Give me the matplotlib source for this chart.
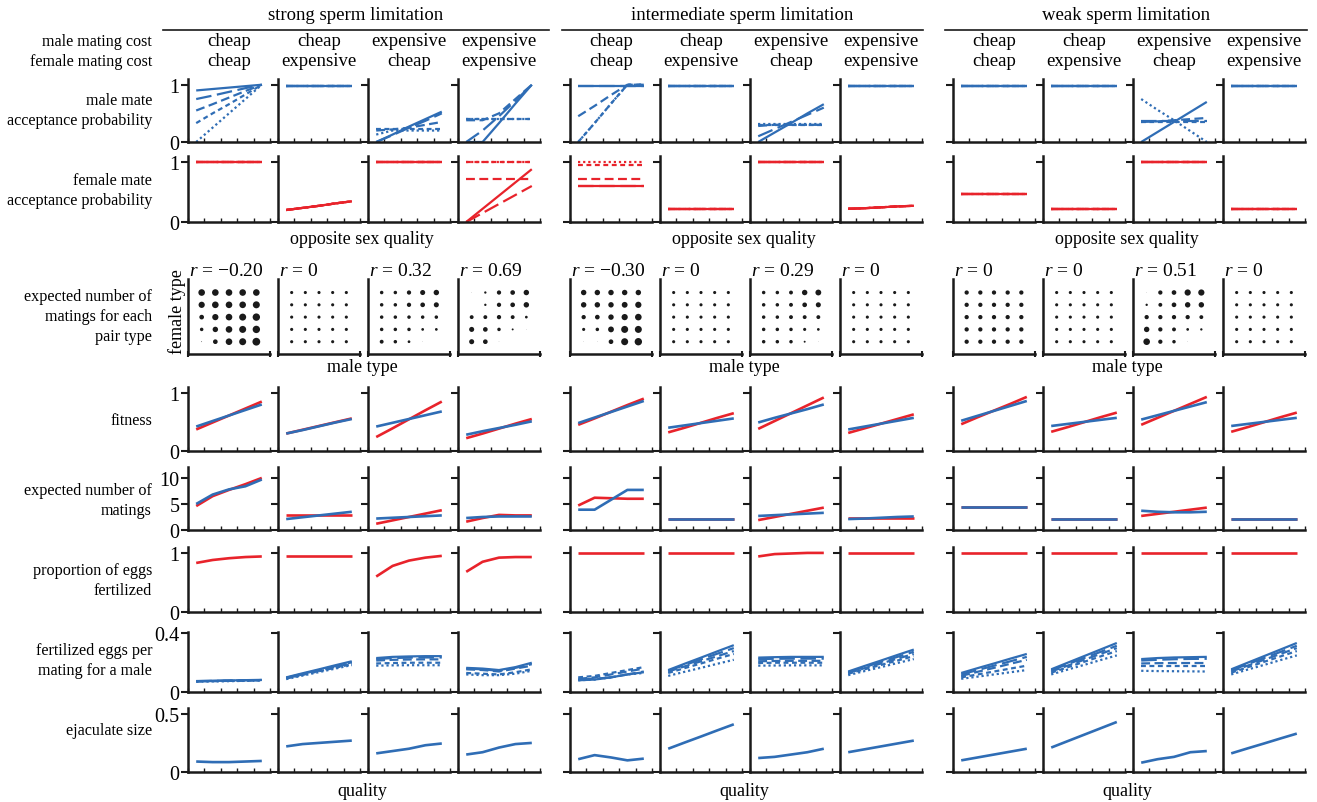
import numpy as np
import matplotlib
matplotlib.use("Agg")
import matplotlib.pyplot as plt
from matplotlib.lines import Line2D

plt.rcParams['font.family'] = ['Liberation Serif', 'DejaVu Serif']
plt.rcParams['mathtext.fontset'] = 'custom'
plt.rcParams['mathtext.rm'] = 'Liberation Serif'
plt.rcParams['mathtext.it'] = 'Liberation Serif:italic'

# ---------------- data ----------------
groups = ["strong sperm limitation", "intermediate sperm limitation", "weak sperm limitation"]
male_cost = ["cheap", "cheap", "expensive", "expensive"]
female_cost = ["cheap", "expensive", "cheap", "expensive"]
quality = [1, 2, 3, 4, 5]
types = [1, 2, 3, 4, 5]
corr_values = ["\u22120.20", "0", "0.32", "0.69",
               "\u22120.30", "0", "0.29", "0",
               "0", "0", "0.51", "0"]

# male mate acceptance probability: 12 panels x 5 own-quality classes
male_accept = [
    [[0.90, 0.925, 0.95, 0.975, 1.0], [0.75, 0.81, 0.875, 0.94, 1.0], [0.55, 0.66, 0.775, 0.89, 1.0],
     [0.33, 0.50, 0.66, 0.83, 1.0], [0.0, 0.25, 0.50, 0.75, 1.0]],
    [[0.97, 0.97, 0.97, 0.97, 0.97], [0.97, 0.97, 0.97, 0.97, 0.97], [0.97, 0.97, 0.97, 0.97, 0.97],
     [0.97, 0.97, 0.97, 0.97, 0.97], [0.97, 0.97, 0.97, 0.97, 0.97]],
    [[0.0, 0.13, 0.27, 0.40, 0.53], [0.0, 0.12, 0.25, 0.37, 0.50], [0.20, 0.22, 0.25, 0.30, 0.35],
     [0.22, 0.22, 0.22, 0.22, 0.22], [0.13, 0.20, 0.20, 0.20, 0.20]],
    [[0.0, 0.0, 0.33, 0.67, 1.0], [0.0, 0.20, 0.45, 0.72, 1.0], [0.38, 0.38, 0.50, 0.75, 1.0],
     [0.40, 0.40, 0.40, 0.40, 0.40], [0.40, 0.40, 0.40, 0.40, 0.40]],
    [[0.98, 0.98, 0.98, 0.98, 0.98], [0.98, 0.98, 0.98, 0.98, 0.98], [0.45, 0.63, 0.82, 1.0, 1.0],
     [0.0, 0.33, 0.67, 1.0, 1.0], [0.0, 0.33, 0.67, 1.0, 1.0]],
    [[0.98, 0.98, 0.98, 0.98, 0.98], [0.98, 0.98, 0.98, 0.98, 0.98], [0.98, 0.98, 0.98, 0.98, 0.98],
     [0.98, 0.98, 0.98, 0.98, 0.98], [0.98, 0.98, 0.98, 0.98, 0.98]],
    [[0.0, 0.165, 0.33, 0.50, 0.66], [0.10, 0.225, 0.35, 0.475, 0.60], [0.28, 0.30, 0.30, 0.30, 0.30],
     [0.30, 0.30, 0.30, 0.30, 0.30], [0.32, 0.32, 0.32, 0.32, 0.32]],
    [[0.98, 0.98, 0.98, 0.98, 0.98], [0.98, 0.98, 0.98, 0.98, 0.98], [0.98, 0.98, 0.98, 0.98, 0.98],
     [0.98, 0.98, 0.98, 0.98, 0.98], [0.98, 0.98, 0.98, 0.98, 0.98]],
    [[0.98, 0.98, 0.98, 0.98, 0.98], [0.98, 0.98, 0.98, 0.98, 0.98], [0.98, 0.98, 0.98, 0.98, 0.98],
     [0.98, 0.98, 0.98, 0.98, 0.98], [0.98, 0.98, 0.98, 0.98, 0.98]],
    [[0.98, 0.98, 0.98, 0.98, 0.98], [0.98, 0.98, 0.98, 0.98, 0.98], [0.98, 0.98, 0.98, 0.98, 0.98],
     [0.98, 0.98, 0.98, 0.98, 0.98], [0.98, 0.98, 0.98, 0.98, 0.98]],
    [[0.0, 0.175, 0.35, 0.525, 0.70], [0.37, 0.37, 0.37, 0.37, 0.37], [0.35, 0.36, 0.38, 0.40, 0.42],
     [0.35, 0.35, 0.35, 0.35, 0.35], [0.75, 0.56, 0.38, 0.19, 0.0]],
    [[0.98, 0.98, 0.98, 0.98, 0.98], [0.98, 0.98, 0.98, 0.98, 0.98], [0.98, 0.98, 0.98, 0.98, 0.98],
     [0.98, 0.98, 0.98, 0.98, 0.98], [0.98, 0.98, 0.98, 0.98, 0.98]],
]

# female mate acceptance probability
female_accept = [
    [[1.0, 1.0, 1.0, 1.0, 1.0], [1.0, 1.0, 1.0, 1.0, 1.0], [1.0, 1.0, 1.0, 1.0, 1.0],
     [1.0, 1.0, 1.0, 1.0, 1.0], [1.0, 1.0, 1.0, 1.0, 1.0]],
    [[0.20, 0.235, 0.27, 0.31, 0.345], [0.20, 0.235, 0.27, 0.31, 0.345], [0.20, 0.235, 0.27, 0.31, 0.345],
     [0.20, 0.235, 0.27, 0.31, 0.345], [0.20, 0.235, 0.27, 0.31, 0.345]],
    [[1.0, 1.0, 1.0, 1.0, 1.0], [1.0, 1.0, 1.0, 1.0, 1.0], [1.0, 1.0, 1.0, 1.0, 1.0],
     [1.0, 1.0, 1.0, 1.0, 1.0], [1.0, 1.0, 1.0, 1.0, 1.0]],
    [[0.0, 0.22, 0.44, 0.66, 0.88], [0.0, 0.15, 0.30, 0.45, 0.60], [0.72, 0.72, 0.72, 0.72, 0.72],
     [1.0, 1.0, 1.0, 1.0, 1.0], [1.0, 1.0, 1.0, 1.0, 1.0]],
    [[0.60, 0.60, 0.60, 0.60, 0.60], [0.60, 0.60, 0.60, 0.60, 0.60], [0.72, 0.72, 0.72, 0.72, 0.72],
     [0.95, 0.95, 0.95, 0.95, 0.95], [1.0, 1.0, 1.0, 1.0, 1.0]],
    [[0.22, 0.22, 0.22, 0.22, 0.22], [0.22, 0.22, 0.22, 0.22, 0.22], [0.22, 0.22, 0.22, 0.22, 0.22],
     [0.22, 0.22, 0.22, 0.22, 0.22], [0.22, 0.22, 0.22, 0.22, 0.22]],
    [[1.0, 1.0, 1.0, 1.0, 1.0], [1.0, 1.0, 1.0, 1.0, 1.0], [1.0, 1.0, 1.0, 1.0, 1.0],
     [1.0, 1.0, 1.0, 1.0, 1.0], [1.0, 1.0, 1.0, 1.0, 1.0]],
    [[0.22, 0.23, 0.245, 0.26, 0.27], [0.22, 0.23, 0.245, 0.26, 0.27], [0.22, 0.23, 0.245, 0.26, 0.27],
     [0.22, 0.23, 0.245, 0.26, 0.27], [0.22, 0.23, 0.245, 0.26, 0.27]],
    [[0.47, 0.47, 0.47, 0.47, 0.47], [0.47, 0.47, 0.47, 0.47, 0.47], [0.47, 0.47, 0.47, 0.47, 0.47],
     [0.47, 0.47, 0.47, 0.47, 0.47], [0.47, 0.47, 0.47, 0.47, 0.47]],
    [[0.22, 0.22, 0.22, 0.22, 0.22], [0.22, 0.22, 0.22, 0.22, 0.22], [0.22, 0.22, 0.22, 0.22, 0.22],
     [0.22, 0.22, 0.22, 0.22, 0.22], [0.22, 0.22, 0.22, 0.22, 0.22]],
    [[1.0, 1.0, 1.0, 1.0, 1.0], [1.0, 1.0, 1.0, 1.0, 1.0], [1.0, 1.0, 1.0, 1.0, 1.0],
     [1.0, 1.0, 1.0, 1.0, 1.0], [1.0, 1.0, 1.0, 1.0, 1.0]],
    [[0.22, 0.22, 0.22, 0.22, 0.22], [0.22, 0.22, 0.22, 0.22, 0.22], [0.22, 0.22, 0.22, 0.22, 0.22],
     [0.22, 0.22, 0.22, 0.22, 0.22], [0.22, 0.22, 0.22, 0.22, 0.22]],
]

# expected number of matings for each pair type (rows: female type 5 -> 1, cols: male type 1 -> 5)
pair_matings = [
    [[0.85, 0.85, 0.85, 0.85, 0.85], [0.80, 0.85, 0.85, 0.85, 0.90], [0.60, 0.80, 0.85, 0.90, 0.95],
     [0.45, 0.70, 0.85, 0.90, 0.95], [0.10, 0.60, 0.85, 0.90, 1.00]],
    [[0.40, 0.40, 0.40, 0.40, 0.40], [0.40, 0.40, 0.40, 0.40, 0.40], [0.40, 0.40, 0.40, 0.40, 0.40],
     [0.40, 0.40, 0.40, 0.40, 0.40], [0.40, 0.40, 0.40, 0.40, 0.40]],
    [[0.45, 0.45, 0.55, 0.65, 0.70], [0.45, 0.45, 0.55, 0.60, 0.65], [0.45, 0.45, 0.45, 0.45, 0.45],
     [0.45, 0.45, 0.45, 0.35, 0.35], [0.50, 0.45, 0.35, 0.05, 0.0]],
    [[0.05, 0.30, 0.55, 0.60, 0.70], [0.0, 0.30, 0.55, 0.60, 0.70], [0.50, 0.50, 0.55, 0.50, 0.35],
     [0.65, 0.60, 0.45, 0.25, 0.05], [0.65, 0.60, 0.05, 0.0, 0.0]],
    [[0.70, 0.70, 0.70, 0.70, 0.70], [0.70, 0.70, 0.70, 0.75, 0.80], [0.55, 0.60, 0.70, 0.80, 0.85],
     [0.40, 0.45, 0.75, 0.90, 0.90], [0.05, 0.05, 0.60, 0.90, 0.95]],
    [[0.40, 0.40, 0.40, 0.40, 0.40], [0.40, 0.40, 0.40, 0.40, 0.40], [0.40, 0.40, 0.40, 0.40, 0.40],
     [0.40, 0.40, 0.40, 0.40, 0.40], [0.40, 0.40, 0.40, 0.40, 0.40]],
    [[0.45, 0.45, 0.50, 0.70, 0.75], [0.45, 0.45, 0.50, 0.60, 0.65], [0.45, 0.45, 0.50, 0.50, 0.50],
     [0.45, 0.45, 0.45, 0.40, 0.35], [0.45, 0.45, 0.45, 0.25, 0.05]],
    [[0.40, 0.40, 0.40, 0.40, 0.40], [0.40, 0.40, 0.40, 0.40, 0.40], [0.40, 0.40, 0.40, 0.40, 0.40],
     [0.40, 0.40, 0.40, 0.40, 0.40], [0.40, 0.40, 0.40, 0.40, 0.40]],
    [[0.55, 0.55, 0.55, 0.55, 0.55], [0.55, 0.55, 0.55, 0.55, 0.55], [0.55, 0.55, 0.55, 0.55, 0.55],
     [0.55, 0.55, 0.55, 0.55, 0.55], [0.55, 0.55, 0.55, 0.55, 0.55]],
    [[0.40, 0.40, 0.40, 0.40, 0.40], [0.40, 0.40, 0.40, 0.40, 0.40], [0.40, 0.40, 0.40, 0.40, 0.40],
     [0.40, 0.40, 0.40, 0.40, 0.40], [0.40, 0.40, 0.40, 0.40, 0.40]],
    [[0.05, 0.55, 0.60, 0.80, 0.80], [0.30, 0.50, 0.60, 0.70, 0.70], [0.55, 0.55, 0.55, 0.55, 0.50],
     [0.70, 0.55, 0.50, 0.35, 0.30], [0.85, 0.55, 0.45, 0.05, 0.0]],
    [[0.40, 0.40, 0.40, 0.40, 0.40], [0.40, 0.40, 0.40, 0.40, 0.40], [0.40, 0.40, 0.40, 0.40, 0.40],
     [0.40, 0.40, 0.40, 0.40, 0.40], [0.40, 0.40, 0.40, 0.40, 0.40]],
]

# fitness (female, male)
fitness_female = [
    [0.37, 0.49, 0.61, 0.73, 0.85], [0.30, 0.365, 0.43, 0.495, 0.56], [0.24, 0.39, 0.545, 0.70, 0.85],
    [0.22, 0.30, 0.385, 0.47, 0.55], [0.45, 0.56, 0.675, 0.79, 0.90], [0.32, 0.40, 0.485, 0.57, 0.65],
    [0.38, 0.515, 0.65, 0.785, 0.92], [0.31, 0.39, 0.47, 0.55, 0.63], [0.46, 0.58, 0.695, 0.81, 0.93],
    [0.33, 0.41, 0.495, 0.58, 0.66], [0.45, 0.57, 0.69, 0.81, 0.93], [0.33, 0.41, 0.495, 0.58, 0.66],
]
fitness_male = [
    [0.42, 0.515, 0.61, 0.705, 0.80], [0.30, 0.36, 0.425, 0.49, 0.55], [0.42, 0.485, 0.55, 0.615, 0.68],
    [0.28, 0.34, 0.395, 0.45, 0.51], [0.48, 0.575, 0.67, 0.765, 0.86], [0.40, 0.44, 0.48, 0.52, 0.56],
    [0.49, 0.57, 0.645, 0.72, 0.80], [0.37, 0.42, 0.47, 0.52, 0.57], [0.52, 0.605, 0.69, 0.775, 0.86],
    [0.43, 0.465, 0.50, 0.535, 0.57], [0.54, 0.615, 0.69, 0.765, 0.84], [0.43, 0.465, 0.50, 0.535, 0.57],
]

# expected number of matings (female, male)
matings_female = [
    [4.6, 6.5, 7.7, 8.8, 10.0], [2.8, 2.8, 2.8, 2.8, 2.8], [1.2, 1.85, 2.5, 3.15, 3.8],
    [1.6, 2.3, 2.9, 2.8, 2.8], [4.7, 6.2, 6.1, 6.0, 6.0], [2.2, 2.2, 2.2, 2.2, 2.2],
    [1.9, 2.5, 3.1, 3.7, 4.3], [2.3, 2.3, 2.3, 2.3, 2.3], [4.5, 4.5, 4.5, 4.5, 4.5],
    [2.2, 2.2, 2.2, 2.2, 2.2], [2.7, 3.1, 3.5, 3.9, 4.3], [2.2, 2.2, 2.2, 2.2, 2.2],
]
matings_male = [
    [5.0, 6.8, 7.8, 8.4, 9.7], [2.1, 2.45, 2.8, 3.15, 3.5], [2.2, 2.35, 2.5, 2.65, 2.8],
    [2.3, 2.5, 2.6, 2.6, 2.6], [3.9, 3.9, 5.8, 7.7, 7.7], [2.2, 2.2, 2.2, 2.2, 2.2],
    [2.7, 2.85, 3.0, 3.15, 3.3], [2.1, 2.2, 2.35, 2.5, 2.6], [4.5, 4.5, 4.5, 4.5, 4.5],
    [2.2, 2.2, 2.2, 2.2, 2.2], [3.7, 3.5, 3.4, 3.4, 3.5], [2.2, 2.2, 2.2, 2.2, 2.2],
]

# proportion of eggs fertilized
prop_fertilized = [
    [0.83, 0.88, 0.91, 0.93, 0.94], [0.94, 0.94, 0.94, 0.94, 0.94], [0.60, 0.78, 0.87, 0.92, 0.95],
    [0.68, 0.85, 0.92, 0.93, 0.93], [1.0, 1.0, 1.0, 1.0, 1.0], [1.0, 1.0, 1.0, 1.0, 1.0],
    [0.94, 0.98, 0.99, 1.0, 1.0], [1.0, 1.0, 1.0, 1.0, 1.0], [1.0, 1.0, 1.0, 1.0, 1.0],
    [1.0, 1.0, 1.0, 1.0, 1.0], [1.0, 1.0, 1.0, 1.0, 1.0], [1.0, 1.0, 1.0, 1.0, 1.0],
]

# fertilized eggs per mating for a male (5 female-quality classes)
eggs_per_mating = [
    [[0.075, 0.077, 0.079, 0.081, 0.083], [0.074, 0.076, 0.078, 0.080, 0.082], [0.073, 0.075, 0.077, 0.079, 0.081],
     [0.072, 0.074, 0.076, 0.078, 0.080], [0.070, 0.072, 0.074, 0.076, 0.078]],
    [[0.100, 0.128, 0.155, 0.183, 0.210], [0.097, 0.124, 0.150, 0.177, 0.203], [0.095, 0.120, 0.146, 0.171, 0.197],
     [0.092, 0.117, 0.142, 0.166, 0.190], [0.088, 0.112, 0.136, 0.160, 0.184]],
    [[0.232, 0.240, 0.243, 0.245, 0.245], [0.225, 0.232, 0.235, 0.236, 0.236], [0.215, 0.220, 0.222, 0.223, 0.223],
     [0.195, 0.198, 0.200, 0.200, 0.200], [0.180, 0.182, 0.183, 0.183, 0.183]],
    [[0.165, 0.160, 0.150, 0.170, 0.200], [0.160, 0.155, 0.145, 0.165, 0.190], [0.155, 0.150, 0.140, 0.160, 0.180],
     [0.130, 0.125, 0.120, 0.135, 0.155], [0.120, 0.115, 0.115, 0.125, 0.145]],
    [[0.080, 0.085, 0.100, 0.120, 0.135], [0.085, 0.090, 0.100, 0.120, 0.140], [0.090, 0.100, 0.120, 0.140, 0.160],
     [0.100, 0.110, 0.130, 0.150, 0.170], [0.080, 0.085, 0.100, 0.120, 0.130]],
    [[0.150, 0.193, 0.235, 0.278, 0.320], [0.145, 0.184, 0.223, 0.262, 0.300], [0.140, 0.175, 0.210, 0.245, 0.280],
     [0.130, 0.163, 0.195, 0.228, 0.260], [0.110, 0.138, 0.165, 0.193, 0.220]],
    [[0.235, 0.238, 0.240, 0.240, 0.240], [0.225, 0.227, 0.228, 0.228, 0.228], [0.210, 0.212, 0.213, 0.213, 0.213],
     [0.198, 0.200, 0.200, 0.200, 0.200], [0.180, 0.181, 0.182, 0.182, 0.182]],
    [[0.140, 0.178, 0.215, 0.253, 0.290], [0.135, 0.170, 0.205, 0.240, 0.275], [0.130, 0.163, 0.195, 0.228, 0.260],
     [0.125, 0.155, 0.185, 0.215, 0.245], [0.115, 0.143, 0.170, 0.198, 0.225]],
    [[0.130, 0.163, 0.195, 0.228, 0.260], [0.120, 0.150, 0.180, 0.210, 0.240], [0.110, 0.138, 0.165, 0.193, 0.220],
     [0.100, 0.120, 0.140, 0.160, 0.180], [0.090, 0.105, 0.120, 0.135, 0.150]],
    [[0.155, 0.200, 0.245, 0.290, 0.335], [0.148, 0.190, 0.232, 0.274, 0.316], [0.140, 0.180, 0.220, 0.260, 0.300],
     [0.132, 0.169, 0.206, 0.243, 0.280], [0.120, 0.153, 0.185, 0.218, 0.250]],
    [[0.225, 0.232, 0.236, 0.238, 0.240], [0.215, 0.220, 0.224, 0.226, 0.227], [0.195, 0.197, 0.198, 0.198, 0.198],
     [0.175, 0.175, 0.175, 0.175, 0.175], [0.145, 0.143, 0.142, 0.141, 0.140]],
    [[0.155, 0.200, 0.245, 0.290, 0.335], [0.148, 0.190, 0.232, 0.274, 0.316], [0.140, 0.180, 0.220, 0.260, 0.300],
     [0.132, 0.169, 0.206, 0.243, 0.280], [0.120, 0.153, 0.185, 0.218, 0.250]],
]

# ejaculate size
ejaculate = [
    [0.090, 0.085, 0.085, 0.090, 0.095], [0.220, 0.240, 0.250, 0.260, 0.270], [0.160, 0.180, 0.200, 0.230, 0.245],
    [0.150, 0.170, 0.210, 0.240, 0.250], [0.110, 0.145, 0.125, 0.100, 0.115], [0.200, 0.253, 0.305, 0.358, 0.410],
    [0.120, 0.130, 0.150, 0.170, 0.200], [0.170, 0.195, 0.220, 0.245, 0.270], [0.100, 0.125, 0.150, 0.175, 0.200],
    [0.210, 0.265, 0.320, 0.375, 0.430], [0.080, 0.110, 0.130, 0.170, 0.180], [0.160, 0.203, 0.245, 0.288, 0.330],
]

# ---------------- layout & style ----------------
BLUE = "#2f6db5"
RED = "#e8232b"
INK = "#1a1a1a"
DASHES = ['-', (0, (7, 2.5)), (0, (4, 2)), (0, (2.2, 1.6)), (0, (1, 1.3))]
LW = 1.6

W, H = 1317, 803
fig = plt.figure(figsize=(W / 100, H / 100), dpi=100)

col_left = [188, 278, 368, 458, 570, 660, 750, 840, 953, 1043, 1133, 1223]
col_w = 82
group_span = [(163, 549), (562, 923), (945, 1307)]

FS_TITLE = 13.5
FS_HEAD = 13.5
FS_TICK = 14.5
FS_AX = 13
FS_R = 14
LFS = 11.6


def px_axes(x0, y_top, y_bot, w=col_w):
    return fig.add_axes([x0 / W, 1 - y_bot / H, w / W, (y_bot - y_top) / H])


def base_style(ax, ylim, yticks, ylabels):
    for s in ('top', 'right'):
        ax.spines[s].set_visible(False)
    for s in ('left', 'bottom'):
        ax.spines[s].set_linewidth(1.8)
        ax.spines[s].set_color(INK)
    ax.set_xlim(0.5, 5.5)
    ax.set_xticks(np.arange(0.5, 5.6, 1.0))
    ax.set_xticklabels([])
    ax.set_ylim(*ylim)
    ax.set_yticks(yticks)
    if ylabels is None:
        ax.set_yticklabels([])
    else:
        ax.set_yticklabels(ylabels, fontsize=FS_TICK)
    ax.tick_params(axis='x', direction='in', length=3, width=1.0, color=INK)
    ax.tick_params(axis='y', direction='out', length=5, width=1.5, color=INK, pad=1)
    ax.patch.set_alpha(0)


def line_row(y_top, y_bot, ylim, yticks, ylabels, draw):
    for i, x0 in enumerate(col_left):
        ax = px_axes(x0, y_top, y_bot)
        base_style(ax, ylim, yticks, ylabels if i == 0 else None)
        draw(ax, i)


def draw_multi(data, color):
    def f(ax, i):
        for k in range(4, -1, -1):
            ax.plot(quality, data[i][k], color=color, lw=LW, ls=DASHES[k],
                    solid_capstyle='butt', dash_capstyle='butt')
    return f


def draw_pair(fem, mal):
    def f(ax, i):
        ax.plot(quality, fem[i], color=RED, lw=LW + 0.3, solid_capstyle='butt')
        ax.plot(quality, mal[i], color=BLUE, lw=LW + 0.3, solid_capstyle='butt')
    return f


def draw_single(data, color):
    def f(ax, i):
        ax.plot(quality, data[i], color=color, lw=LW + 0.3, solid_capstyle='butt')
    return f


# row 1: male acceptance
line_row(80, 143, (0, 1.1), [0, 1], ['0', '1'], draw_multi(male_accept, BLUE))
# row 2: female acceptance
line_row(157, 223, (0, 1.1), [0, 1], ['0', '1'], draw_multi(female_accept, RED))

# row 3: pair-type matings as dot grids
for i, x0 in enumerate(col_left):
    ax = px_axes(x0, 280, 355)
    for s in ('top', 'right'):
        ax.spines[s].set_visible(False)
    for s in ('left', 'bottom'):
        ax.spines[s].set_linewidth(1.8)
        ax.spines[s].set_color(INK)
    ax.set_xlim(0, 6)
    ax.set_ylim(0, 6.1)
    vals = np.array(pair_matings[i])
    for r in range(5):
        fy = types[4 - r]
        sizes = (vals[r] * 5.6) ** 2
        ax.scatter(types, [fy] * 5, s=sizes, color=INK, edgecolors='none')
    ax.set_xticks([0, 6])
    ax.set_xticklabels([])
    ax.set_yticks([])
    ax.tick_params(axis='x', direction='inout', length=5, width=1.5, color=INK)
    ax.patch.set_alpha(0)
    fig.text((x0 + 1) / W, 1 - 272 / H, "$r$ = " + corr_values[i], fontsize=FS_R,
             ha='left', va='center')

# row 4: fitness
line_row(388, 452, (0, 1.1), [0, 1], ['0', '1'], draw_pair(fitness_female, fitness_male))
# row 5: matings
line_row(468, 531, (0, 12.1), [0, 5, 10], ['0', '5', '10'], draw_pair(matings_female, matings_male))
# row 6: proportion fertilized
line_row(548, 613, (0, 1.1), [0, 1], ['0', '1'], draw_single(prop_fertilized, RED))
# row 7: fertilized eggs per mating
line_row(633, 693, (0, 0.41), [0, 0.4], ['0', '0.4'], draw_multi(eggs_per_mating, BLUE))
# row 8: ejaculate size
line_row(709, 773, (0, 0.55), [0, 0.5], ['0', '0.5'], draw_single(ejaculate, BLUE))

# ---------------- headers and labels ----------------
for g in range(3):
    a, b = group_span[g]
    cx = (col_left[4 * g] + col_left[4 * g + 3] + col_w) / 2
    fig.text(((a + b) / 2) / W, 1 - 16 / H, groups[g], fontsize=FS_TITLE, ha='center', va='center')
    fig.add_artist(Line2D([a / W, b / W], [1 - 31 / H, 1 - 31 / H], color=INK, lw=1.2))
    fig.text((cx - 2) / W, 1 - 240 / H, "opposite sex quality", fontsize=FS_AX, ha='center', va='center')
    fig.text((cx - 2) / W, 1 - 368 / H, "male type", fontsize=FS_AX, ha='center', va='center')
    fig.text((cx - 2) / W, 1 - 792 / H, "quality", fontsize=FS_AX, ha='center', va='center')
    for j in range(4):
        x0 = col_left[4 * g + j] + col_w / 2
        fig.text(x0 / W, 1 - 41 / H, male_cost[j], fontsize=FS_HEAD, ha='center', va='center')
        fig.text(x0 / W, 1 - 62 / H, female_cost[j], fontsize=FS_HEAD, ha='center', va='center')

fig.text(177 / W, 1 - 312 / H, "female type", fontsize=FS_AX, ha='center', va='center', rotation=90)

row_labels = [
    ("male mating cost", 42), ("female mating cost", 62),
    ("male mate\nacceptance probability", 111),
    ("female mate\nacceptance probability", 191),
    ("expected number of\nmatings for each\npair type", 317),
    ("fitness", 421),
    ("expected number of\nmatings", 501),
    ("proportion of eggs\nfertilized", 581),
    ("fertilized eggs per\nmating for a male", 661),
    ("ejaculate size", 731),
]
for txt, y in row_labels:
    fig.text(152 / W, 1 - y / H, txt, fontsize=LFS, ha='right', va='center', linespacing=1.3)

fig.savefig("out.png", dpi=100)
